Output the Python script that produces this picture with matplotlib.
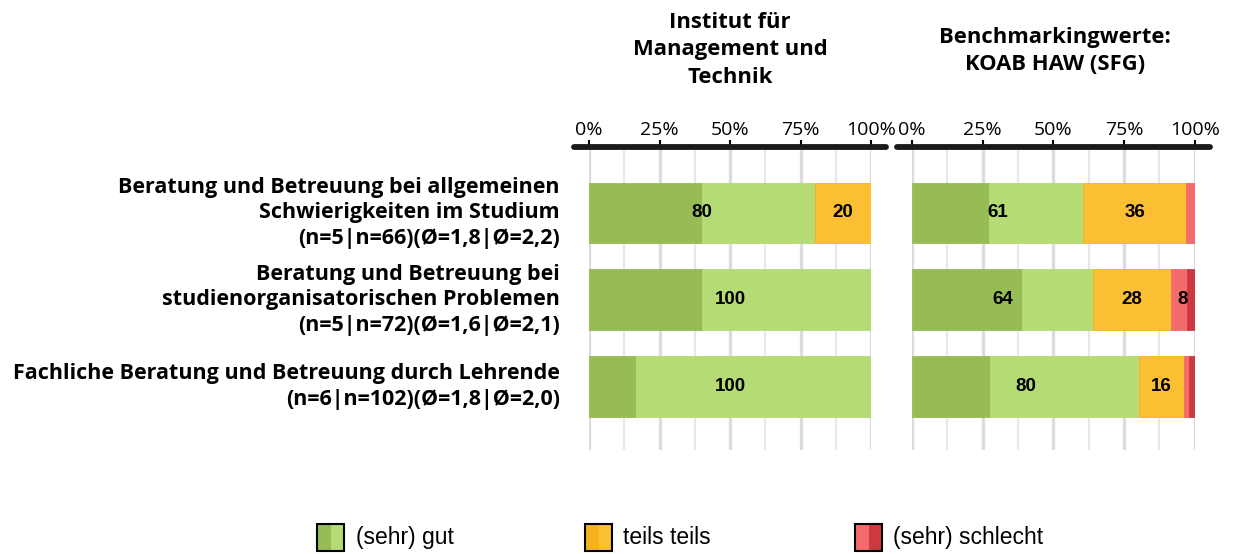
import matplotlib
matplotlib.use("Agg")
import matplotlib.pyplot as plt
from matplotlib.patches import Rectangle

# ---------------- data ----------------
row_labels = [
    "Beratung und Betreuung bei allgemeinen\nSchwierigkeiten im Studium\n(n=5|n=66)(Ø=1,8|Ø=2,2)",
    "Beratung und Betreuung bei\nstudienorganisatorischen Problemen\n(n=5|n=72)(Ø=1,6|Ø=2,1)",
    "Fachliche Beratung und Betreuung durch Lehrende\n(n=6|n=102)(Ø=1,8|Ø=2,0)",
]
panel_titles = ["Institut für\nManagement und\nTechnik", "Benchmarkingwerte:\nKOAB HAW (SFG)"]
legend_labels = ["(sehr) gut", "teils teils", "(sehr) schlecht"]
tick_values = [0, 25, 50, 75, 100]
tick_labels = ["0%", "25%", "50%", "75%", "100%"]

left_sehr_gut = [40.0, 40.0, 16.7]
left_gut = [40.0, 60.0, 83.3]
left_teils = [20.0, 0.0, 0.0]
left_schlecht = [0.0, 0.0, 0.0]
left_sehr_schlecht = [0.0, 0.0, 0.0]

right_sehr_gut = [27.3, 38.9, 27.5]
right_gut = [33.3, 25.0, 52.9]
right_teils = [36.4, 27.8, 15.7]
right_schlecht = [3.0, 5.6, 2.0]
right_sehr_schlecht = [0.0, 2.8, 2.0]

# ---------------- style ----------------
c_dgreen = "#97BC56"
c_lgreen = "#B5DB75"
c_orange = "#FBBF33"
c_orange_d = "#F5B21E"
c_lred = "#F46B6E"
c_dred = "#CB3A40"

label_font = "Open Sans"
W, H = 1238, 554
fig = plt.figure(figsize=(W / 100, H / 100), dpi=100)

def fx(px):
    return px / W

def fy(py):
    return 1 - py / H

ax_top, ax_bot = 147, 450
axL = fig.add_axes([fx(589), fy(ax_bot), fx(871) - fx(589), fy(ax_top) - fy(ax_bot)])
axR = fig.add_axes([fx(912), fy(ax_bot), fx(1194.7) - fx(912), fy(ax_top) - fy(ax_bot)])

ytop, ybot = -0.76, 2.73
bar_h = 0.70
rows = list(range(len(row_labels)))

def draw_panel(ax, segs):
    ax.set_xlim(0, 100)
    ax.set_ylim(ybot, ytop)
    for s in ax.spines.values():
        s.set_visible(False)
    ax.set_yticks([])
    ax.set_xticks(tick_values)
    ax.set_xticks([12.5, 37.5, 62.5, 87.5], minor=True)
    ax.set_xticklabels(tick_labels, fontsize=14, family=label_font)
    ax.xaxis.set_ticks_position("top")
    ax.tick_params(axis="x", which="major", length=5, width=1.5, pad=1, color="black")
    ax.tick_params(axis="x", which="minor", length=0)
    ax.grid(axis="x", which="major", color="#dcdcdc", lw=2.4, zorder=0)
    ax.grid(axis="x", which="minor", color="#e8e8e8", lw=1.6, zorder=0)
    ax.set_axisbelow(True)
    ax.plot([-5.3, 105.3], [ytop, ytop], color="#1a1a1a", lw=4.2,
            solid_capstyle="round", clip_on=False, zorder=5)

    sg, g, t, s, ss = segs
    colors = [c_dgreen, c_lgreen, c_orange, c_lred, c_dred]
    for i in rows:
        left = 0
        vals = [sg[i], g[i], t[i], s[i], ss[i]]
        for v, c in zip(vals, colors):
            if v > 0:
                ec = c_orange_d if c == c_orange else c
                ax.barh(i, v, left=left, height=bar_h, color=c, edgecolor=ec,
                        linewidth=0.6, zorder=2)
            left += v
        groups = [(0, sg[i] + g[i]), (sg[i] + g[i], t[i]),
                  (sg[i] + g[i] + t[i], s[i] + ss[i])]
        for start, w in groups:
            if round(w) >= 5:
                ax.text(start + w / 2, i, f"{round(w):d}", ha="center", va="center",
                        fontsize=13.5, fontweight="bold", family="Liberation Sans",
                        zorder=4)

draw_panel(axL, (left_sehr_gut, left_gut, left_teils, left_schlecht, left_sehr_schlecht))
draw_panel(axR, (right_sehr_gut, right_gut, right_teils, right_schlecht, right_sehr_schlecht))

fig.text(fx(730), fy(50), panel_titles[0], ha="center", va="center", fontsize=15.8,
         fontweight="bold", family=label_font, linespacing=1.38)
fig.text(fx(1055), fy(51), panel_titles[1], ha="center", va="center", fontsize=15.8,
         fontweight="bold", family=label_font, linespacing=1.38)

# row labels
for i, lab in zip(rows, row_labels):
    axL.annotate(lab, xy=(fx(560), i), xycoords=("figure fraction", "data"),
                 ha="right", va="center", multialignment="right", fontsize=15.5,
                 fontweight="bold", family=label_font, linespacing=1.27,
                 annotation_clip=False)

# legend
legend_items = [
    (317, 356, c_dgreen, c_lgreen),
    (585, 623, c_orange_d, c_orange),
    (855, 893, c_lred, c_dred),
]
pw, ph = 27, 27
py0 = 524
for (x0, tx, c1, c2), lab in zip(legend_items, legend_labels):
    fig.patches.append(Rectangle((fx(x0), fy(py0 + ph)), fx(pw / 2), fy(0) - fy(ph),
                                 transform=fig.transFigure, facecolor=c1, edgecolor="none"))
    fig.patches.append(Rectangle((fx(x0 + pw / 2), fy(py0 + ph)), fx(pw / 2), fy(0) - fy(ph),
                                 transform=fig.transFigure, facecolor=c2, edgecolor="none"))
    fig.patches.append(Rectangle((fx(x0), fy(py0 + ph)), fx(pw), fy(0) - fy(ph),
                                 transform=fig.transFigure, facecolor="none",
                                 edgecolor="black", lw=1.5))
    fig.text(fx(tx), fy(py0 + ph / 2), lab, ha="left", va="center", fontsize=16.5,
             family="Liberation Sans")

fig.savefig("out.png", dpi=100)
